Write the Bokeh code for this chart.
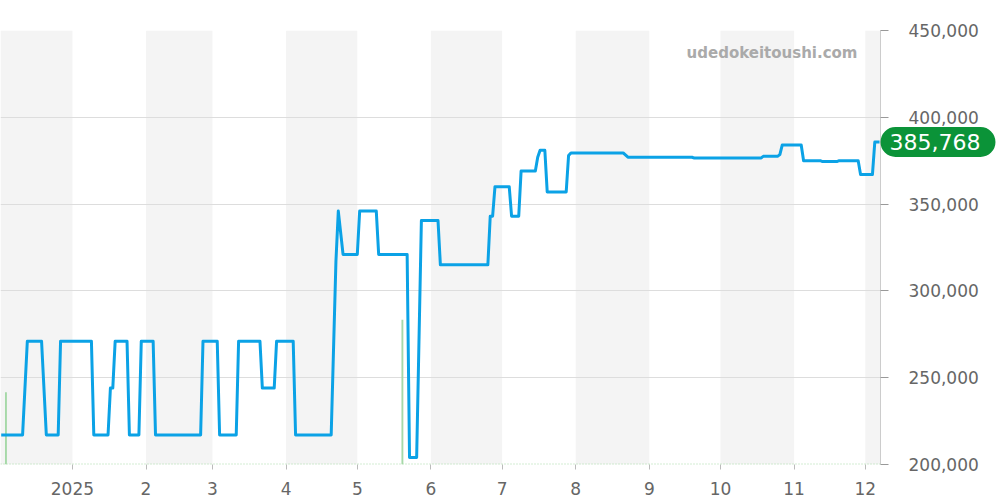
import pandas as pd
from bokeh.plotting import figure
from bokeh.models import (Range1d, FixedTicker, NumeralTickFormatter,
                          BoxAnnotation, Label, Span)
from bokeh.embed import file_html
from bokeh.resources import INLINE

# ---------------- data ----------------
dates = [
    "2024-12-02", "2024-12-11", "2024-12-13", "2024-12-19", "2024-12-21",
    "2024-12-26", "2024-12-27", "2025-01-09", "2025-01-10", "2025-01-16",
    "2025-01-17", "2025-01-18", "2025-01-19", "2025-01-24", "2025-01-25",
    "2025-01-29", "2025-01-30", "2025-02-04", "2025-02-05", "2025-02-24",
    "2025-02-25", "2025-03-03", "2025-03-04", "2025-03-11", "2025-03-12",
    "2025-03-21", "2025-03-22", "2025-03-27", "2025-03-28", "2025-04-04",
    "2025-04-05", "2025-04-20", "2025-04-22", "2025-04-23", "2025-04-25",
    "2025-05-01", "2025-05-02", "2025-05-09", "2025-05-10", "2025-05-22",
    "2025-05-23", "2025-05-26", "2025-05-28", "2025-06-04", "2025-06-05",
    "2025-06-25", "2025-06-26", "2025-06-27", "2025-06-28", "2025-07-04",
    "2025-07-05", "2025-07-08", "2025-07-09", "2025-07-15", "2025-07-16",
    "2025-07-17", "2025-07-19", "2025-07-20", "2025-07-28", "2025-07-29",
    "2025-07-30", "2025-08-21", "2025-08-23", "2025-09-19", "2025-09-20",
    "2025-10-18", "2025-10-19", "2025-10-25", "2025-10-26", "2025-10-27",
    "2025-11-04", "2025-11-05", "2025-11-12", "2025-11-13", "2025-11-19",
    "2025-11-20", "2025-11-28", "2025-11-29", "2025-12-04", "2025-12-05",
    "2025-12-07",
]
prices = [
    217000, 217000, 271000, 271000, 217000,
    217000, 271000, 271000, 217000, 217000,
    244000, 244000, 271000, 271000, 217000,
    217000, 271000, 271000, 217000, 217000,
    271000, 271000, 217000, 217000, 271000,
    271000, 244000, 244000, 271000, 271000,
    217000, 217000, 317000, 346000, 321000,
    321000, 346000, 346000, 321000, 321000,
    204000, 204000, 340500, 340500, 315000,
    315000, 343000, 343000, 360000, 360000,
    343000, 343000, 369000, 369000, 377000,
    381000, 381000, 357000, 357000, 378000,
    379500, 379500, 377000, 377000, 376500,
    376500, 377500, 377500, 378500, 384000,
    384000, 375000, 375000, 374500, 374500,
    375000, 375000, 367000, 367000, 385768,
    385768,
]
volume_dates = ["2024-12-04", "2025-05-20"]
volumes = [1, 2]
month_starts = ["2024-12-01", "2025-01-01", "2025-02-01", "2025-03-01",
                "2025-04-01", "2025-05-01", "2025-06-01", "2025-07-01",
                "2025-08-01", "2025-09-01", "2025-10-01", "2025-11-01",
                "2025-12-01", "2026-01-01"]
month_labels = ["", "2025", "2", "3", "4", "5", "6", "7", "8", "9",
                "10", "11", "12", ""]
price_ticks = [200000, 250000, 300000, 350000, 400000, 450000]
watermark = "udedokeitoushi.com"

DAY = 86400000.0


def ms(s):
    return pd.Timestamp(s).value / 1e6


x_start = ms("2024-12-01") + 0.7 * DAY
x_end = ms("2025-12-07") + 0.4 * DAY

p = figure(width=1000, height=500, output_backend="svg", toolbar_location=None,
           x_range=Range1d(x_start, x_end), y_range=Range1d(200000, 450000),
           y_axis_location="right", min_border_left=0, min_border_top=30,
           min_border_right=120, min_border_bottom=36)
p.outline_line_color = None
p.background_fill_color = "white"
p.border_fill_color = "white"

# alternating month bands
for i in range(len(month_starts) - 1):
    if i % 2 == 0:
        left = max(ms(month_starts[i]), x_start)
        right = min(ms(month_starts[i + 1]), x_end)
        p.add_layout(BoxAnnotation(left=left, right=right, fill_color="#f4f4f4",
                                   fill_alpha=1.0, line_color=None, level="image"))

# grid
p.xgrid.visible = False
p.ygrid.ticker = FixedTicker(ticks=price_ticks)
p.ygrid.grid_line_color = "#dddddd"
p.ygrid.grid_line_width = 1

# volume bars
p.extra_y_ranges = {"vol": Range1d(0, 6)}
p.vbar(x=[ms(d) for d in volume_dates], top=volumes, width=0.8 * DAY,
       y_range_name="vol", fill_color="#a6d9a8", line_color=None)
p.add_layout(Span(location=0, dimension="width", y_range_name="vol",
                  line_color="#a6d9a8", line_dash="1 2", line_width=2))

# price line
p.line(x=[ms(d) for d in dates], y=prices, line_color="#0ba2e6",
       line_width=3, line_join="round")

# x axis
tick_vals = [ms(m) for m in month_starts[1:-1]]
p.xaxis.ticker = FixedTicker(ticks=tick_vals)
p.xaxis.major_label_overrides = {ms(m): lab for m, lab in
                                 zip(month_starts[1:-1], month_labels[1:-1])}
p.xaxis.axis_line_color = None
p.xaxis.major_tick_line_color = "#bbbbbb"
p.xaxis.major_tick_out = 5
p.xaxis.major_tick_in = 0
p.xaxis.minor_tick_line_color = None
p.xaxis.major_label_text_font = "DejaVu Sans"
p.xaxis.major_label_text_font_size = "17px"
p.xaxis.major_label_text_color = "#666666"
p.xaxis.major_label_standoff = 12

# y axis (right)
p.yaxis.ticker = FixedTicker(ticks=price_ticks)
p.yaxis.formatter = NumeralTickFormatter(format="0,0")
p.yaxis.axis_line_color = "#cccccc"
p.yaxis.major_tick_line_color = "#999999"
p.yaxis.major_tick_out = 8
p.yaxis.major_tick_in = 0
p.yaxis.minor_tick_line_color = None
p.yaxis.major_label_text_font = "DejaVu Sans"
p.yaxis.major_label_text_font_size = "17px"
p.yaxis.major_label_text_color = "#666666"
p.yaxis.major_label_standoff = 20

# watermark
p.add_layout(Label(x=x_end, y=450000, x_offset=-23, y_offset=-22,
                   text=watermark, text_align="right", text_baseline="middle",
                   text_font="DejaVu Sans", text_font_style="bold",
                   text_font_size="15px", text_color="#aaaaaa"))

# last price badge (placed in the top side panel so it is not clipped
# to the frame; its position still comes from the data scales)
last = prices[-1]
p.add_layout(Label(x=x_end, y=last, x_offset=0, text=f"{last:,}",
                   text_align="left", text_baseline="middle",
                   text_font="DejaVu Sans", text_font_size="22px",
                   text_color="white", background_fill_color="#0b9338",
                   background_fill_alpha=1.0, border_radius=15,
                   padding=dict(left=9, right=15, top=7, bottom=7)), "above")

open("out.html", "w").write(file_html(p, INLINE))
